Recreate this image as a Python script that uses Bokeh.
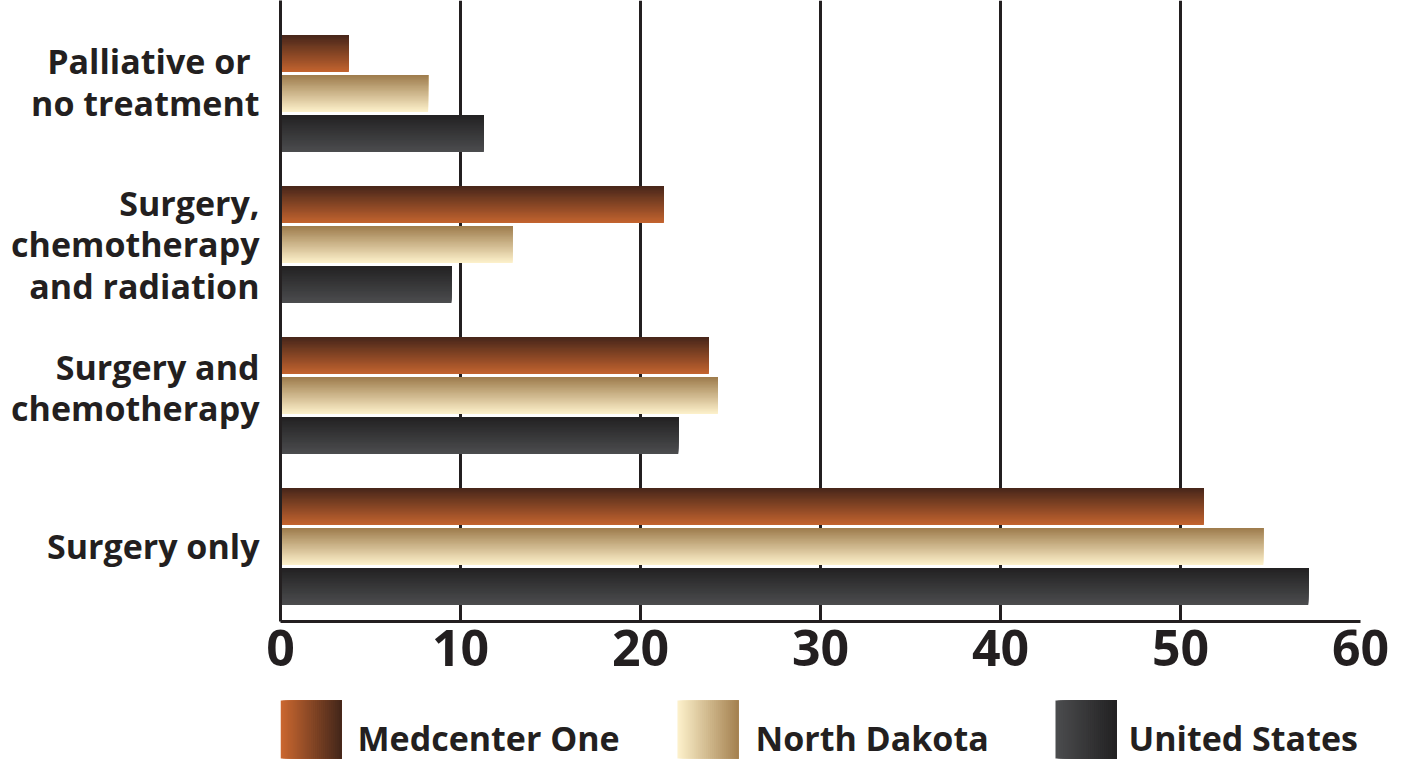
import numpy as np
from bokeh.plotting import figure
from bokeh.models import FixedTicker, Range1d, ColumnDataSource
from bokeh.layouts import column
from bokeh.embed import file_html
from bokeh.resources import INLINE
from bokeh.core.properties import value

# Treatment categories, listed bottom to top
treatments = [
    "Surgery only",
    "Surgery and\nchemotherapy",
    "Surgery,\nchemotherapy\nand radiation",
    "Palliative or \nno treatment",
]
# Where each category's label sits on the y axis (two-line labels ride a bit high)
label_pos = [0, 1.053, 2, 3.075]
series_names = ["Medcenter One", "North Dakota", "United States"]
medcenter = [51.3, 23.8, 21.3, 3.8]
north_dakota = [54.6, 24.3, 12.9, 8.2]
united_states = [57.1, 22.1, 9.5, 11.3]
x_ticks = [0, 10, 20, 30, 40, 50, 60]

INK = "#231f20"
FONT = "Open Sans"

# (top colour, bottom colour) of each bar gradient
bar_gradients = [("#47261a", "#c4642f"), ("#9d7b4c", "#fef2cc"), ("#222122", "#4c4d4f")]
# (left colour, right colour) of each legend swatch
swatch_gradients = [("#cc6830", "#43261a"), ("#fef2cc", "#a3804f"), ("#4c4d4f", "#222122")]
series_values = [medcenter, north_dakota, united_states]
offsets = [0.265, 0.0, -0.265]
bar_h = 0.245


def rgb(h):
    h = h.lstrip("#")
    return np.array([int(h[i:i + 2], 16) for i in (0, 2, 4)], dtype=float)


def blend(c0, c1, t):
    c = rgb(c0) * (1 - t) + rgb(c1) * t
    return "#%02x%02x%02x" % tuple(int(round(v)) for v in c)


p = figure(width=1405, height=690, output_backend="svg", toolbar_location=None,
           x_range=Range1d(0, 60), y_range=Range1d(-0.497, 3.616),
           min_border_left=280, min_border_right=45, min_border_top=0,
           min_border_bottom=69)
p.outline_line_color = None
p.background_fill_color = "white"
p.border_fill_color = "white"

# Vertical gradient on each bar: stacked bands, each running from its start
# up to the top of the bar, painted bottom first so no seams show
N = 30
for vals, off, (top_c, bot_c) in zip(series_values, offsets, bar_gradients):
    ys, rights, hs, cols = [], [], [], []
    for i, v in enumerate(vals):
        y0 = i + off - bar_h / 2
        y1 = i + off + bar_h / 2
        for j in range(N):
            start = y0 + bar_h * j / N
            ys.append((start + y1) / 2)
            hs.append(y1 - start)
            rights.append(v)
            cols.append(blend(bot_c, top_c, (j + 0.5) / N))
    src = ColumnDataSource(dict(y=ys, right=rights, h=hs, c=cols))
    p.hbar(y="y", left=0, right="right", height="h", fill_color="c",
           line_color=None, source=src)

p.xgrid.ticker = FixedTicker(ticks=x_ticks)
p.xgrid.grid_line_color = INK
p.xgrid.grid_line_width = 3
p.ygrid.grid_line_color = None

p.xaxis.ticker = FixedTicker(ticks=x_ticks)
p.xaxis.axis_line_color = INK
p.xaxis.axis_line_width = 3
p.xaxis.major_tick_line_color = None
p.xaxis.minor_tick_line_color = None
p.xaxis.major_label_text_font = FONT
p.xaxis.major_label_text_font_style = "bold"
p.xaxis.major_label_text_font_size = "50px"
p.xaxis.major_label_text_color = INK
p.xaxis.major_label_standoff = 2

p.yaxis.ticker = FixedTicker(ticks=label_pos)
p.yaxis.major_label_overrides = {pos: t for pos, t in zip(label_pos, treatments)}
p.yaxis.axis_line_color = INK
p.yaxis.axis_line_width = 3
p.yaxis.major_tick_line_color = None
p.yaxis.minor_tick_line_color = None
p.yaxis.major_label_text_font = FONT
p.yaxis.major_label_text_font_style = "bold"
p.yaxis.major_label_text_font_size = "34px"
p.yaxis.major_label_text_color = INK
p.yaxis.major_label_text_align = "right"
p.yaxis.major_label_text_line_height = 0.9
p.yaxis.major_label_standoff = 15

# Legend strip below the chart; its ranges are set so that data units equal
# page pixels (x from the left edge, y from the top edge)
leg = figure(width=1405, height=69, output_backend="svg", toolbar_location=None,
             x_range=Range1d(280, 1360), y_range=Range1d(759, 690),
             min_border_left=280, min_border_right=45,
             min_border_top=0, min_border_bottom=0)
leg.axis.visible = False
leg.grid.visible = False
leg.outline_line_color = None
leg.background_fill_color = "white"
leg.border_fill_color = "white"

swatch_left = [280, 677, 1055]
swatch_w = 61
text_x = [357, 755, 1128]
M = 30
for name, sl, tx, (lc, rc) in zip(series_names, swatch_left, text_x, swatch_gradients):
    lefts = [sl + swatch_w * j / M for j in range(M)]
    cols = [blend(lc, rc, (j + 0.5) / M) for j in range(M)]
    leg.quad(left=lefts, right=sl + swatch_w, top=700, bottom=758,
             fill_color=cols, line_color=None)
    leg.text(x=[tx], y=[737], text=[name], text_font=value(FONT), text_font_style="bold",
             text_font_size="34px", text_color=INK, text_baseline="middle")

layout = column(p, leg, spacing=0)
open("out.html", "w").write(file_html(layout, INLINE))
